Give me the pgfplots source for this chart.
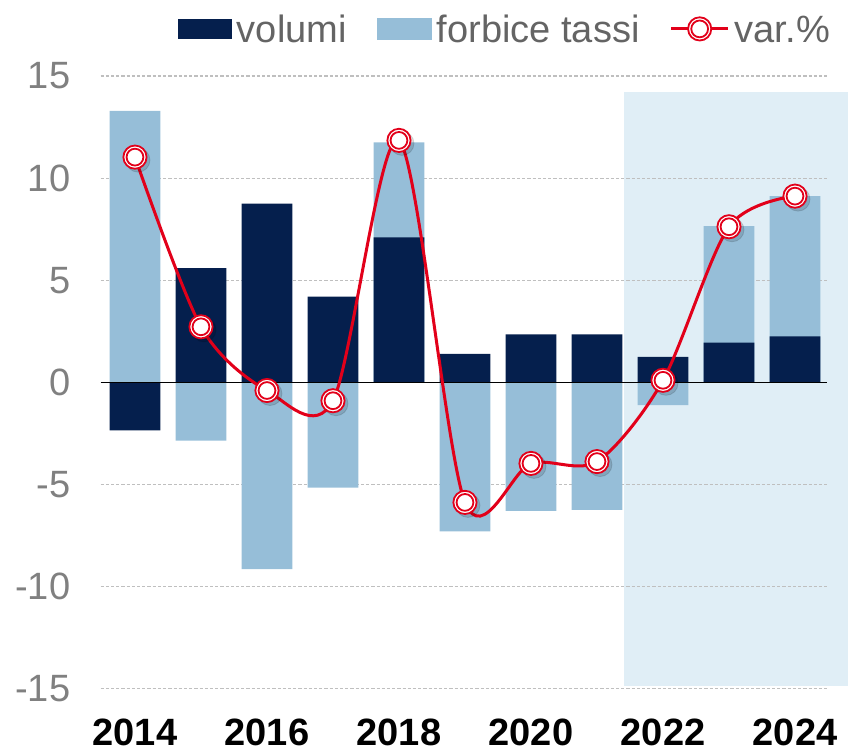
\documentclass[border=0pt]{standalone}
\usepackage{fontspec}
\setmainfont{Liberation Sans}
\usepackage{pgfplots}
\usepackage{pgfplotstable}
\pgfplotsset{compat=1.18}

\definecolor{navy}{RGB}{5,31,77}
\definecolor{lightbar}{RGB}{150,190,216}
\definecolor{shade}{RGB}{224,238,246}
\definecolor{linered}{RGB}{226,0,26}
\definecolor{tickgrey}{RGB}{128,128,128}
\definecolor{leggrey}{RGB}{100,100,100}

% year, volumi, forbice tassi, var.%
\pgfplotstableread{
year volumi forbice var
2014 -2.35 13.30 11.03
2015  5.60 -2.85  2.72
2016  8.75 -9.15 -0.40
2017  4.20 -5.15 -0.90
2018  7.10  4.65 11.85
2019  1.40 -7.30 -5.88
2020  2.35 -6.30 -3.97
2021  2.35 -6.25 -3.88
2022  1.25 -1.12  0.10
2023  1.95  5.70  7.62
2024  2.25  6.87  9.12
}\data

\newcommand{\labfont}{\fontsize{19}{22}\selectfont}

\begin{document}
\begin{tikzpicture}
\begin{axis}[
    set layers,
    width=363pt, height=306pt,
    scale only axis,
    clip=false,
    xmin=2013.48, xmax=2024.49,
    ymin=-15, ymax=15,
    ytick={-15,-10,...,15},
    xtick={2014,2016,...,2024},
    xticklabels={2014,2016,2018,2020,2022,2024},
    axis line style={draw=none},
    major tick length=0pt,
    ymajorgrids=true,
    major grid style={gray!50, line width=0.6pt, dash pattern=on 1.6pt off 1pt},
    /pgf/number format/assume math mode=true,
    yticklabel style={font=\labfont, text=tickgrey, anchor=east, inner sep=0pt, xshift=-15pt},
    xticklabel style={font=\labfont\bfseries, text=black, anchor=north, inner sep=0pt, yshift=-15pt},
    legend style={at={(1.004,1.077)}, anchor=east, draw=none, fill=none,
        font=\labfont, text=leggrey, inner sep=0pt,
        legend columns=-1,
        /tikz/every even column/.append style={column sep=15pt},
        nodes={inner sep=0pt, text depth=0pt}},
    legend cell align=left,
]
% forecast shading
\addplot[fill=shade, draw=none, on layer=axis background, forget plot]
    coordinates {(2021.415,-14.85) (2024.81,-14.85) (2024.81,14.22) (2021.415,14.22)};

% forbice tassi (stacked on volumi where both are positive)
\addplot[ybar, bar width=0.77, bar shift=0pt, fill=lightbar, draw=none, forget plot]
    table[x=year, y expr={\thisrow{forbice}+ifthenelse(and(\thisrow{forbice}>0,\thisrow{volumi}>0),\thisrow{volumi},0)}] {\data};

% volumi
\addplot[ybar, bar width=0.77, bar shift=0pt, fill=navy, draw=none,
    legend image code/.code={\fill[navy] (0pt,-5pt) rectangle (27pt,5pt); \path (29.5pt,0pt);}]
    table[x=year, y=volumi] {\data};
\addlegendentry{volumi}
\addlegendimage{legend image code/.code={\fill[lightbar] (0pt,-5pt) rectangle (27pt,5pt); \path (29.5pt,0pt);}}
\addlegendentry{forbice tassi}

\draw[black, line width=0.6pt] (axis cs:2013.48,0) -- (axis cs:2024.49,0);

% marker shadows
\addplot[only marks, mark=*, mark size=6pt, draw=none, fill=black, opacity=0.13,
    mark options={xshift=1.5pt, yshift=-1.5pt}, forget plot]
    table[x=year, y=var] {\data};

% var.%
\addplot[smooth, tension=0.5, color=linered, line width=1.5pt,
    mark=*, mark size=5.8pt,
    mark options={solid, fill=white, draw=linered, line width=0.9pt},
    legend image code/.code={
        \draw[linered, line width=1.5pt] (0pt,0pt) -- (28.5pt,0pt);
        \draw[linered, fill=white, line width=0.9pt] (14.25pt,0pt) circle (5.8pt);
        \draw[linered, line width=0.9pt] (14.25pt,0pt) circle (4.2pt);
        \path (31pt,0pt);}]
    table[x=year, y=var] {\data};
\addlegendentry{var.\%}
% inner ring of the markers
\addplot[only marks, mark=o, mark size=4.2pt, mark options={draw=linered, line width=0.9pt}, forget plot]
    table[x=year, y=var] {\data};

\coordinate (bl) at (axis cs:2011.955,-18.09);
\coordinate (tr) at (axis cs:2024.803,18.725);
\end{axis}
\pgfresetboundingbox
\path (bl) rectangle (tr);
\end{tikzpicture}
\end{document}
